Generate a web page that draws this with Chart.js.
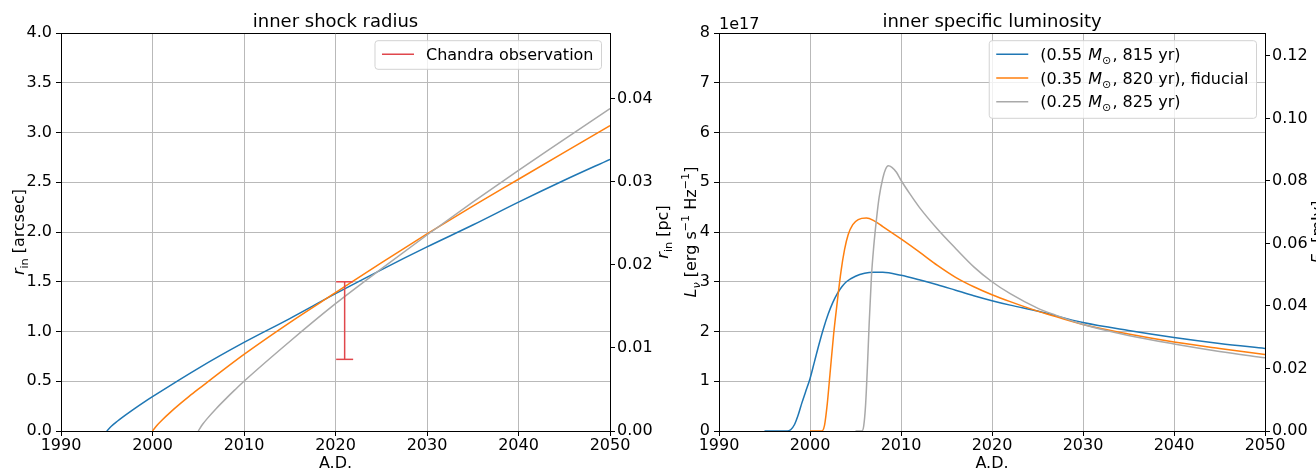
<!DOCTYPE html>
<html>
<head>
<meta charset="utf-8">
<script src="https://cdn.jsdelivr.net/npm/chart.js@4.4.0/dist/chart.umd.min.js"></script>
<style>
  html, body { margin: 0; padding: 0; background: #fff; }
  #wrap { position: relative; width: 1316px; height: 471px; overflow: hidden; }
  canvas { position: absolute; left: 0; top: 0; }
</style>
</head>
<body>
<div id="wrap">
  <canvas id="radius" width="1316" height="471"></canvas>
  <canvas id="lum" width="1316" height="471"></canvas>
</div>
<script>
// ---- data ----
// inner shock radius [arcsec]
const radYears055 = [1995, 1995.5, 1996, 1997, 1998, 1999, 2000, 2005, 2010, 2015, 2020, 2025, 2030, 2035, 2040, 2045, 2050];
const rad055 = [0, 0.047, 0.086, 0.156, 0.222, 0.285, 0.345, 0.63, 0.89, 1.13, 1.38, 1.62, 1.85, 2.07, 2.30, 2.52, 2.73];
const radYears035 = [2000, 2000.5, 2001, 2002, 2003, 2004, 2005, 2010, 2015, 2020, 2025, 2030, 2035, 2040, 2045, 2050];
const rad035 = [0, 0.058, 0.106, 0.192, 0.272, 0.348, 0.42, 0.77, 1.09, 1.39, 1.69, 1.98, 2.26, 2.53, 2.80, 3.07];
const radYears025 = [2005, 2005.5, 2006, 2007, 2008, 2009, 2010, 2015, 2020, 2025, 2030, 2035, 2040, 2045, 2050];
const rad025 = [0, 0.07, 0.127, 0.229, 0.323, 0.413, 0.50, 0.90, 1.28, 1.63, 1.97, 2.30, 2.62, 2.93, 3.24];

// Chandra measurement (year, low, high) in arcsec
const chandraYear = 2021;
const chandraRange = [0.72, 1.5];

// inner specific luminosity, in units of 1e17 erg/s/Hz
const lumYears055 = [1995, 1997.5, 1997.9, 1998.3, 1998.7, 1999.1, 1999.5, 2000, 2000.5, 2001, 2001.5, 2002, 2002.5, 2003, 2003.5, 2004, 2005, 2006, 2007, 2008, 2010, 2012, 2014, 2016, 2018, 2020, 2022, 2025, 2030, 2035, 2040, 2045, 2050];
const lum055 = [0, 0, 0.03, 0.13, 0.32, 0.56, 0.78, 1.05, 1.4, 1.75, 2.07, 2.35, 2.58, 2.76, 2.9, 3.0, 3.11, 3.17, 3.19, 3.19, 3.13, 3.04, 2.94, 2.83, 2.72, 2.62, 2.53, 2.41, 2.18, 2.02, 1.88, 1.76, 1.66];
const lumYears035 = [2000, 2001.3, 2001.6, 2001.9, 2002.2, 2002.6, 2003, 2003.4, 2003.8, 2004.2, 2004.7, 2005.3, 2006.2, 2007, 2008, 2010, 2012, 2014, 2016, 2018, 2020, 2022, 2025, 2027, 2030, 2035, 2040, 2045, 2050];
const lum035 = [0, 0, 0.12, 0.55, 1.15, 1.95, 2.6, 3.2, 3.65, 3.95, 4.15, 4.25, 4.28, 4.23, 4.11, 3.86, 3.6, 3.33, 3.09, 2.9, 2.74, 2.6, 2.41, 2.3, 2.14, 1.95, 1.79, 1.66, 1.54];
const lumYears025 = [2005, 2005.7, 2005.9, 2006.1, 2006.3, 2006.5, 2006.75, 2007, 2007.3, 2007.6, 2008, 2008.3, 2008.6, 2009, 2009.5, 2010, 2011, 2012, 2014, 2016, 2018, 2020, 2022, 2025, 2027, 2030, 2035, 2040, 2045, 2050];
const lum025 = [0, 0, 0.1, 0.5, 1.25, 2.15, 3.1, 3.7, 4.25, 4.7, 5.08, 5.26, 5.33, 5.3, 5.2, 5.04, 4.76, 4.5, 4.06, 3.67, 3.3, 3.0, 2.76, 2.47, 2.33, 2.14, 1.92, 1.75, 1.6, 1.47];

// secondary axes ranges (conversion of the left axis tops)
const pcTop = 0.04795;    // 4 arcsec in pc
const mJyTop = 0.1273;    // 8e17 erg/s/Hz in mJy

const BLUE = '#1f77b4', ORANGE = '#ff7f0e', GRAY = '#a9a9a9', RED = '#e0474c';
const GRID = '#b9b9b9';
const FONT = 'DejaVu Sans';

Chart.defaults.font.family = FONT;
Chart.defaults.font.size = 16;
Chart.defaults.color = '#000';

const pts = (xs, ys) => xs.map((x, i) => ({ x: x, y: ys[i] }));

// ---- small rich-text helpers (italics, sub/superscripts) ----
function segFont(s, size) {
  const sz = (s.sub || s.sup) ? size * 0.7 : size;
  return (s.it ? 'italic ' : '') + sz + 'px "' + FONT + '"';
}
function richWidth(ctx, segs, size) {
  let w = 0;
  segs.forEach(s => {
    if (s.gap) { w += s.gap; return; }
    ctx.font = segFont(s, size);
    w += ctx.measureText(s.t).width;
  });
  return w;
}
function drawRich(ctx, segs, x, y, size) {
  segs.forEach(s => {
    if (s.gap) { x += s.gap; return; }
    ctx.font = segFont(s, size);
    const dy = s.sub ? size * 0.25 : s.sup ? -size * 0.42 : 0;
    ctx.fillText(s.t, x, y + dy);
    x += ctx.measureText(s.t).width;
  });
}
function drawVertical(ctx, segs, cx, cy, size) {
  ctx.save();
  ctx.translate(cx + size * 0.32, cy);
  ctx.rotate(-Math.PI / 2);
  drawRich(ctx, segs, -richWidth(ctx, segs, size) / 2, 0, size);
  ctx.restore();
}
function drawLegend(ctx, a, items, size) {
  let tw = 0;
  items.forEach(it => { tw = Math.max(tw, richWidth(ctx, it.segs, size)); });
  const w = 7 + 32 + 12 + tw + 8;
  const h = 28.6 + (items.length - 1) * 24.5;
  const x0 = a.right - 8.5 - w, y0 = a.top + 7.7;
  ctx.beginPath();
  ctx.roundRect(x0, y0, w, h, 3);
  ctx.fillStyle = 'rgba(255,255,255,0.8)';
  ctx.fill();
  ctx.strokeStyle = '#d2d2d2';
  ctx.lineWidth = 1;
  ctx.stroke();
  items.forEach((it, i) => {
    const yc = y0 + 13.5 + i * 23.8;
    ctx.beginPath();
    ctx.moveTo(x0 + 7, yc);
    ctx.lineTo(x0 + 39, yc);
    ctx.strokeStyle = it.color;
    ctx.lineWidth = 1.5;
    ctx.stroke();
    ctx.fillStyle = '#000';
    drawRich(ctx, it.segs, x0 + 51, yc + 5.5, size);
  });
}

// frame top, titles, axis labels, offset text, legend
const decor = {
  id: 'decor',
  afterDatasetsDraw(chart, args, opts) {
    const ctx = chart.ctx, a = chart.chartArea;
    ctx.save();
    ctx.strokeStyle = '#000';
    ctx.lineWidth = 1;
    ctx.beginPath();
    ctx.moveTo(a.left, Math.round(a.top) + 0.5);
    ctx.lineTo(a.right, Math.round(a.top) + 0.5);
    ctx.stroke();
    ctx.fillStyle = '#000';
    ctx.textBaseline = 'alphabetic';
    ctx.font = '18px "' + FONT + '"';
    ctx.textAlign = 'center';
    ctx.fillText(opts.title, (a.left + a.right) / 2, 26.7);
    ctx.textAlign = 'left';
    (opts.yTitles || []).forEach(t => drawVertical(ctx, t.segs, t.x, (a.top + a.bottom) / 2, 16));
    if (opts.offsetText) {
      ctx.font = '16px "' + FONT + '"';
      ctx.fillText(opts.offsetText, a.left, a.top - 4);
    }
    if (opts.legend) drawLegend(ctx, a, opts.legend, 16);
    ctx.restore();
  }
};

function xAxis() {
  return {
    type: 'linear', min: 1990, max: 2050,
    ticks: { stepSize: 10, callback: v => String(v), padding: 0, maxRotation: 0, autoSkip: false },
    grid: { color: GRID, tickColor: '#000', tickLength: 5, lineWidth: 1 },
    border: { color: '#000', width: 1 },
    title: { display: true, text: 'A.D.', padding: { top: 0, bottom: -2 } },
    afterFit: s => { s.height = 40; }
  };
}

const line = (label, data, color, order) => ({
  label: label, data: data, borderColor: color, borderWidth: 1.5, order: order,
  pointRadius: 0, cubicInterpolationMode: 'monotone', fill: false
});

const models = [
  { segs: [{ t: '(0.55 ' }, { gap: 1 }, { t: 'M', it: 1 }, { t: '⊙', sub: 1 }, { gap: 1 }, { t: ', 815 yr)' }], color: BLUE },
  { segs: [{ t: '(0.35 ' }, { gap: 1 }, { t: 'M', it: 1 }, { t: '⊙', sub: 1 }, { gap: 1 }, { t: ', 820 yr), fiducial' }], color: ORANGE },
  { segs: [{ t: '(0.25 ' }, { gap: 1 }, { t: 'M', it: 1 }, { t: '⊙', sub: 1 }, { gap: 1 }, { t: ', 825 yr)' }], color: GRAY }
];

// ---- left panel: inner shock radius ----
new Chart('radius', {
  type: 'line',
  data: {
    datasets: [
      {
        label: 'Chandra observation',
        data: chandraRange.map(v => ({ x: chandraYear, y: v })),
        borderColor: RED, borderWidth: 1.5, tension: 0, order: 0,
        pointStyle: 'line', pointRadius: 8.5, pointBorderColor: RED, pointBorderWidth: 1.5
      },
      line('0.25', pts(radYears025, rad025), GRAY, 1),
      line('0.35', pts(radYears035, rad035), ORANGE, 2),
      line('0.55', pts(radYears055, rad055), BLUE, 3)
    ]
  },
  options: {
    responsive: false, animation: false,
    layout: { padding: { left: 0, right: 636, top: 33, bottom: 0 } },
    plugins: {
      legend: { display: false }, tooltip: { enabled: false },
      decor: {
        title: 'inner shock radius',
        yTitles: [
          { x: 18.5, segs: [{ t: 'r', it: 1 }, { t: 'in', sub: 1 }, { t: ' [arcsec]' }] },
          { x: 663, segs: [{ t: 'r', it: 1 }, { t: 'in', sub: 1 }, { t: ' [pc]' }] }
        ],
        legend: [{ segs: [{ t: 'Chandra observation' }], color: RED }]
      }
    },
    scales: {
      x: xAxis(),
      y: {
        position: 'left', min: 0, max: 4,
        ticks: { stepSize: 0.5, callback: v => v.toFixed(1), padding: 4 },
        grid: { color: GRID, tickColor: '#000', tickLength: 5, lineWidth: 1 },
        border: { color: '#000', width: 1 },
        afterFit: s => { s.width = 61; }
      },
      y2: {
        position: 'right', min: 0, max: pcTop, display: true,
        ticks: { stepSize: 0.01, includeBounds: false, callback: v => v.toFixed(2), padding: 2 },
        grid: { drawOnChartArea: false, tickColor: '#000', tickLength: 5 },
        border: { color: '#000', width: 1 },
        afterFit: s => { s.width = 70; }
      }
    }
  },
  plugins: [decor]
});

// ---- right panel: inner specific luminosity ----
new Chart('lum', {
  type: 'line',
  data: {
    datasets: [
      line('0.25', pts(lumYears025, lum025), GRAY, 1),
      line('0.35', pts(lumYears035, lum035), ORANGE, 2),
      line('0.55', pts(lumYears055, lum055), BLUE, 3)
    ]
  },
  options: {
    responsive: false, animation: false,
    layout: { padding: { left: 669, right: 0, top: 33, bottom: 0 } },
    plugins: {
      legend: { display: false }, tooltip: { enabled: false },
      decor: {
        title: 'inner specific luminosity',
        offsetText: '1e17',
        yTitles: [
          { x: 691, segs: [{ t: 'L', it: 1 }, { t: 'ν', sub: 1, it: 1 }, { t: ' [erg s' }, { t: '−1', sup: 1 }, { t: ' Hz' }, { t: '−1', sup: 1 }, { t: ']' }] },
          { x: 1318, segs: [{ t: 'F', it: 1 }, { t: 'ν', sub: 1, it: 1 }, { t: ' [mJy]' }] }
        ],
        legend: models
      }
    },
    scales: {
      x: xAxis(),
      y: {
        position: 'left', min: 0, max: 8,
        ticks: { stepSize: 1, callback: v => String(v), padding: 4 },
        grid: { color: GRID, tickColor: '#000', tickLength: 5, lineWidth: 1 },
        border: { color: '#000', width: 1 },
        afterFit: s => { s.width = 50; }
      },
      y2: {
        position: 'right', min: 0, max: mJyTop, display: true,
        ticks: { stepSize: 0.02, includeBounds: false, callback: v => v.toFixed(2), padding: 2 },
        grid: { drawOnChartArea: false, tickColor: '#000', tickLength: 5 },
        border: { color: '#000', width: 1 },
        afterFit: s => { s.width = 51; }
      }
    }
  },
  plugins: [decor]
});
</script>
</body>
</html>
